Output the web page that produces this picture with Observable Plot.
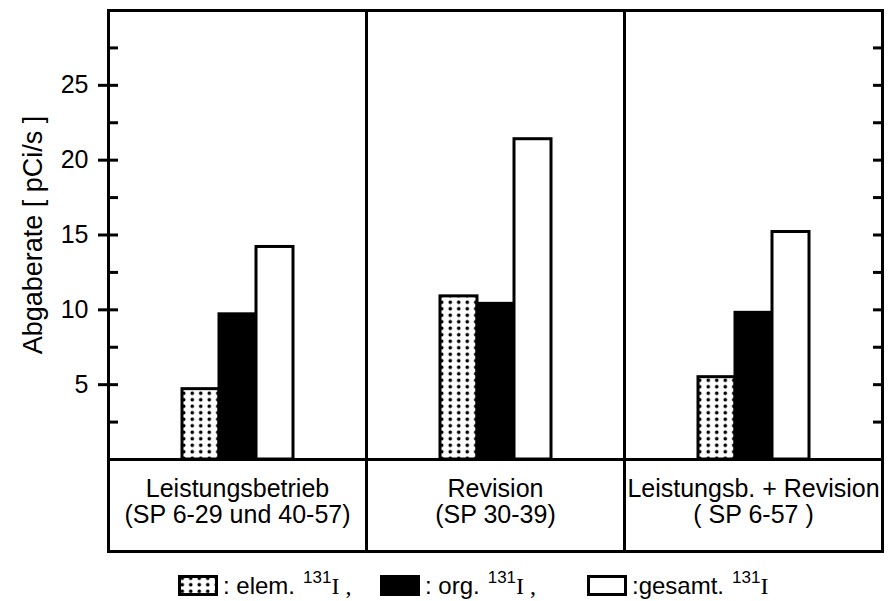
<!DOCTYPE html>
<html>
<head>
<meta charset="utf-8">
<script src="https://cdn.jsdelivr.net/npm/d3@7"></script>
<script src="https://cdn.jsdelivr.net/npm/@observablehq/plot@0.6"></script>
<style>
  body { margin: 0; background: #fff; }
  #chart { width: 888px; }
  .legend {
    position: relative; height: 45px; width: 888px;
    font-family: "Liberation Sans", Arial, sans-serif; font-size: 24px; color: #000;
  }
  .legend .item { position: absolute; top: 0; height: 42px; display: flex; align-items: flex-end; white-space: nowrap; }
  .legend sup { font-size: 17px; position: relative; top: -12px; margin-left: 8px; line-height: 1; }
  .legend .iso { font-family: "Liberation Serif", "DejaVu Serif", serif; font-size: 24px; line-height: 1; }
  .legend .name { line-height: 1; }
  .legend svg { margin-bottom: 2px; }
</style>
</head>
<body>
<div id="chart"></div>
<div class="legend" id="legend"></div>
<script>
// Operating periods (facets) and their sampling-period ranges
const categories = ["Leistungsbetrieb", "Revision", "Leistungsb. + Revision"];
const periods = ["(SP 6-29 und 40-57)", "(SP 30-39)", "( SP 6-57 )"];

// Iodine-131 species shown in each period
const series = ["elem", "org", "gesamt"];

// Release rates in pCi/s, one value per period
const elemValues = [4.7, 10.9, 5.5];
const orgValues = [9.7, 10.4, 9.8];
const gesamtValues = [14.2, 21.4, 15.2];

// Axis ticks
const labeledTicks = [5, 10, 15, 20, 25];
const allTicks = [2.5, 5, 7.5, 10, 12.5, 15, 17.5, 20, 22.5, 25, 27.5];

const valuesBySeries = {elem: elemValues, org: orgValues, gesamt: gesamtValues};
const rows = categories.flatMap((c, i) =>
  series.map(s => ({category: c, series: s, value: valuesBySeries[s][i]}))
);

const ink = "#000";

const chart = Plot.plot({
  width: 888,
  height: 556,
  marginLeft: 107,
  marginRight: 6,
  marginTop: 10,
  marginBottom: 97,
  style: {
    fontFamily: "'Liberation Sans', Arial, sans-serif",
    fontSize: "25px",
    color: ink,
    background: "#fff",
    overflow: "visible"
  },
  fx: {domain: categories, padding: 0, axis: null},
  x: {domain: series, paddingInner: 0, paddingOuter: 1.9, axis: null},
  y: {domain: [0, 30]},
  marks: [
    Plot.barY(rows, {filter: d => d.series === "elem", fx: "category", x: "series", y: "value",
      fill: "url(#dots)", stroke: ink, strokeWidth: 3, inset: 0}),
    Plot.barY(rows, {filter: d => d.series === "org", fx: "category", x: "series", y: "value",
      fill: ink, stroke: ink, strokeWidth: 3, inset: 0}),
    Plot.barY(rows, {filter: d => d.series === "gesamt", fx: "category", x: "series", y: "value",
      fill: "#fff", stroke: ink, strokeWidth: 3, inset: 0}),
    // baseline separating the bars from the period captions
    Plot.ruleY([0], {stroke: ink, strokeWidth: 3}),
    // each period panel, extended downward to enclose its caption
    Plot.frame({stroke: ink, strokeWidth: 3, insetBottom: -92}),
    // outer ticks with labels on the left
    Plot.axisY(labeledTicks, {anchor: "left", tickSize: 10, tickPadding: 10, strokeWidth: 3,
      fontSize: 25, label: null}),
    // axis title
    Plot.axisY({anchor: "left", ticks: [], tickSize: 0, fontSize: 27,
      label: "Abgaberate [ pCi/s ]", labelAnchor: "center", labelArrow: "none", labelOffset: 86}),
    // inner ticks on both sides
    Plot.axisY(allTicks, {anchor: "left", tickSize: 10, dx: 10, text: null, label: null, strokeWidth: 3}),
    Plot.axisY(allTicks, {anchor: "right", tickSize: 10, dx: -10, text: null, label: null, strokeWidth: 3}),
    // period captions
    Plot.text(categories, {fx: d => d, text: (d, i) => d + "\n" + periods[i],
      frameAnchor: "bottom", lineAnchor: "middle", dy: 42, lineHeight: 1.06, fontSize: 25, fill: ink})
  ]
});

// dotted fill used by the elemental-iodine bars
const dotsDefs = `
  <pattern id="dots" width="8.5" height="6.5" patternUnits="userSpaceOnUse">
    <rect width="8.5" height="6.5" fill="#fff"></rect>
    <circle cx="4.25" cy="3.25" r="1.8" fill="#000"></circle>
  </pattern>`;
const svgRoot = chart.tagName.toLowerCase() === "svg" ? chart : chart.querySelector("svg");
d3.select(svgRoot).insert("defs", ":first-child").html(dotsDefs);

document.getElementById("chart").appendChild(chart);

// legend: swatch, species name and isotope
const legendItems = [
  {left: 178, fill: "url(#dots)", name: ": elem.", sep: ","},
  {left: 380, fill: ink, name: ": org.", sep: ","},
  {left: 587, fill: "#fff", name: ":gesamt.", sep: ""}
];
const legend = d3.select("#legend");
for (const item of legendItems) {
  const el = legend.append("div").attr("class", "item").style("left", item.left + "px");
  const sw = el.append("svg").attr("width", 40).attr("height", 21).style("margin-right", "5px");
  sw.append("rect").attr("x", 1.5).attr("y", 1.5).attr("width", 37).attr("height", 18)
    .attr("fill", item.fill).attr("stroke", ink).attr("stroke-width", 3);
  el.append("span").attr("class", "name").text(item.name);
  el.append("sup").text("131");
  el.append("span").attr("class", "iso").text("I" + (item.sep ? " " + item.sep : ""));
}
</script>
</body>
</html>
